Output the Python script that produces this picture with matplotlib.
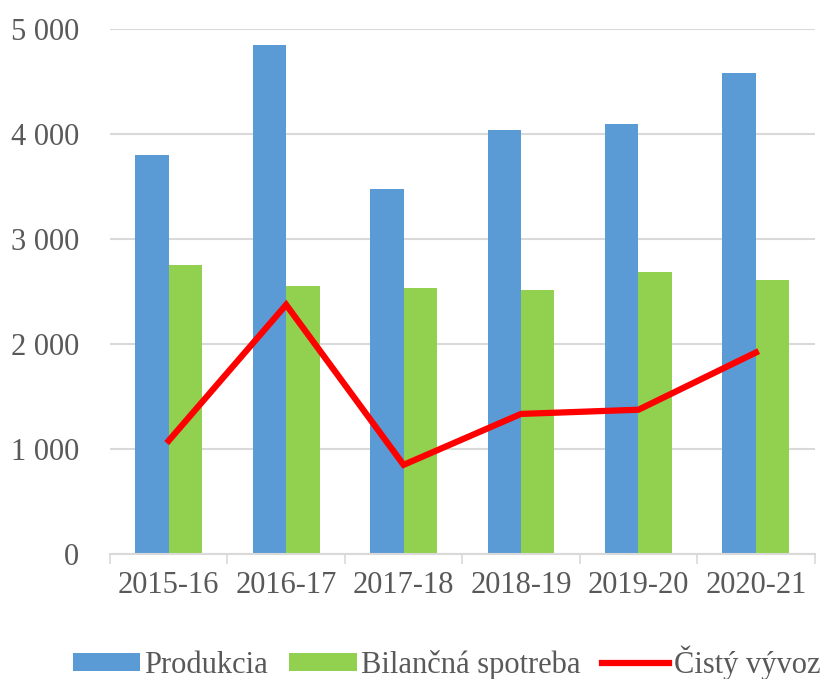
import numpy as np
import matplotlib.pyplot as plt
from matplotlib.ticker import FuncFormatter

years = ["2015-16", "2016-17", "2017-18", "2018-19", "2019-20", "2020-21"]
produkcia = [3800, 4850, 3480, 4035, 4100, 4580]
spotreba = [2750, 2550, 2530, 2515, 2685, 2610]
vyvoz = [1080, 2375, 850, 1335, 1375, 1920]

BLUE = "#5B9BD5"
GREEN = "#92D050"
RED = "#FF0000"
TEXT = "#595959"

plt.rcParams["font.family"] = ["Liberation Serif", "DejaVu Serif"]

fig = plt.figure(figsize=(8.27, 6.79), dpi=100)
ax = fig.add_axes([0.133, 0.184, 0.852, 0.773])

x = np.arange(len(years))
w = 0.285
b1 = ax.bar(x - w / 2, produkcia, width=w, color=BLUE, label="Produkcia", zorder=2)
b2 = ax.bar(x + w / 2, spotreba, width=w, color=GREEN, label="Bilančná spotreba", zorder=2)
(ln,) = ax.plot(x, vyvoz, color=RED, linewidth=4.5, label="Čistý vývoz", zorder=3,
                solid_joinstyle="miter")

ax.set_xlim(-0.5, len(years) - 0.5)
ax.set_ylim(0, 5000)
ax.set_yticks(range(0, 5001, 1000))
ax.yaxis.set_major_formatter(FuncFormatter(lambda v, p: f"{int(v):,}".replace(",", " ")))
ax.grid(axis="y", color="#D9D9D9", linewidth=1.5, zorder=0)

ax.set_xticks(x)
ax.set_xticklabels(years)
ax.set_xticks(np.arange(-0.5, len(years)), minor=True)
ax.tick_params(axis="x", which="major", length=0, pad=12, labelsize=22, colors=TEXT)
ax.tick_params(axis="x", which="minor", length=7, width=1.2, color="#D9D9D9")
ax.tick_params(axis="y", length=0, pad=22, labelsize=22, colors=TEXT)

for s in ["left", "right", "top"]:
    ax.spines[s].set_visible(False)
ax.spines["bottom"].set_color("#D9D9D9")
ax.spines["bottom"].set_linewidth(1.5)

fig.legend([b1, b2, ln], ["Produkcia", "Bilančná spotreba", "Čistý vývoz"],
           loc="center", bbox_to_anchor=(0.54, 0.024), ncol=3, frameon=False,
           fontsize=22, labelcolor=TEXT, handlelength=2.2, handleheight=0.5,
           handletextpad=0.15, columnspacing=0.7, borderpad=0.1)

fig.savefig("out.png", dpi=100)
